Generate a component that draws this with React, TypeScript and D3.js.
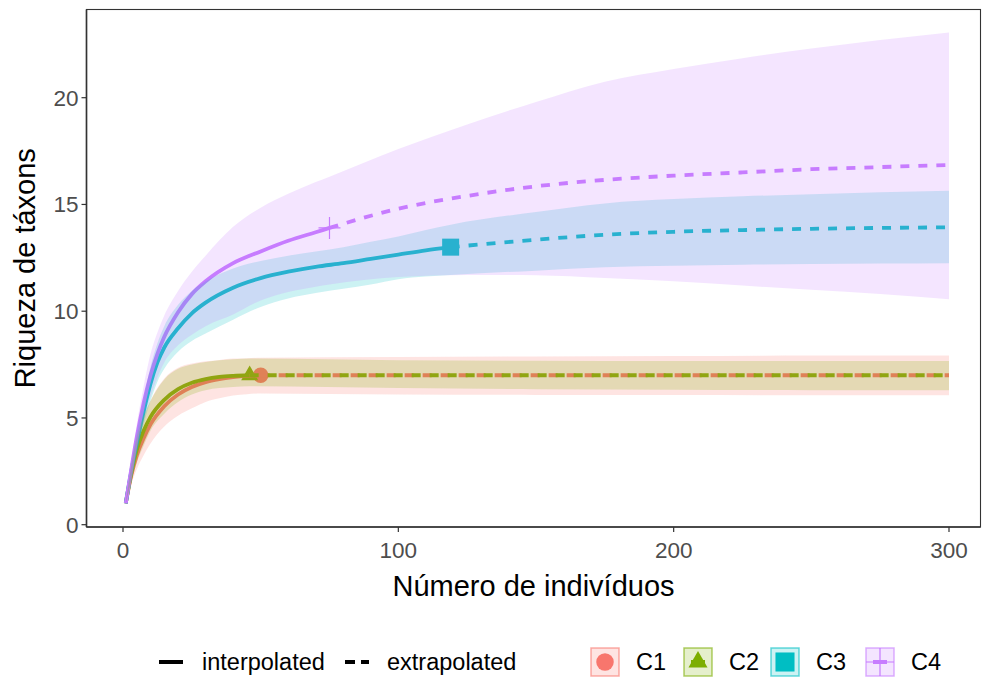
import React from "react";
import * as d3 from "d3";

// ---------- data ----------
const groups = ["C1", "C2", "C3", "C4"];
const colors = ["#F8766D", "#7CAE00", "#00BFC4", "#C77CFF"];
const obsN = [50, 46, 119, 75];

const c1N = [1, 3, 5, 7.5, 10, 15, 20, 25, 30, 35, 40, 45, 50, 100, 150, 200, 250, 300];
const c1S = [1, 2.3, 3.25, 4.05, 4.7, 5.55, 6.1, 6.45, 6.68, 6.82, 6.91, 6.97, 7.0, 7.0, 7.0, 7.0, 7.0, 7.0];
const c1Lo = [1, 1.9, 2.6, 3.25, 3.8, 4.6, 5.1, 5.45, 5.75, 5.92, 6.05, 6.11, 6.15, 6.1, 6.08, 6.07, 6.06, 6.06];
const c1Hi = [1, 2.7, 3.9, 5.0, 5.8, 6.85, 7.35, 7.55, 7.65, 7.72, 7.78, 7.8, 7.82, 7.86, 7.88, 7.9, 7.92, 7.93];

const c2N = [1, 3, 5, 7.5, 10, 15, 20, 25, 30, 35, 40, 46, 100, 150, 200, 250, 300];
const c2S = [1, 2.4, 3.5, 4.4, 5.05, 5.85, 6.35, 6.65, 6.82, 6.92, 6.97, 7.0, 7.0, 7.0, 7.0, 7.0, 7.0];
const c2Lo = [1, 2.0, 2.9, 3.7, 4.4, 5.2, 5.75, 6.1, 6.3, 6.4, 6.45, 6.48, 6.4, 6.35, 6.32, 6.3, 6.3];
const c2Hi = [1, 2.8, 4.1, 5.1, 5.8, 6.8, 7.3, 7.5, 7.62, 7.7, 7.75, 7.78, 7.7, 7.68, 7.67, 7.67, 7.67];

const c3N = [1, 3, 5, 7.5, 10, 12.5, 15, 20, 25, 30, 40, 50, 60, 70, 80, 90, 100, 110, 119, 150, 175, 200, 225, 250, 275, 300];
const c3S = [1, 2.5, 3.8, 5.3, 6.6, 7.6, 8.3, 9.2, 9.9, 10.4, 11.1, 11.55, 11.85, 12.08, 12.25, 12.45, 12.65, 12.85, 13.0, 13.35, 13.58, 13.72, 13.8, 13.86, 13.9, 13.93];
const c3Lo = [1, 2.2, 3.4, 4.7, 5.8, 6.7, 7.3, 8.1, 8.6, 8.95, 9.6, 10.2, 10.6, 10.85, 11.05, 11.25, 11.5, 11.62, 11.7, 11.9, 12.06, 12.13, 12.18, 12.21, 12.23, 12.25];
const c3Hi = [1, 2.8, 4.3, 5.9, 7.4, 8.5, 9.3, 10.3, 10.95, 11.4, 12.0, 12.35, 12.6, 12.8, 13.0, 13.25, 13.5, 13.8, 14.05, 14.65, 15.05, 15.25, 15.38, 15.48, 15.57, 15.64];

const c4N = [1, 3, 5, 7.5, 10, 12.5, 15, 20, 25, 30, 40, 50, 60, 70, 75, 100, 125, 150, 175, 200, 225, 250, 275, 300];
const c4S = [1, 2.6, 4.1, 5.7, 7.0, 8.0, 8.8, 9.95, 10.8, 11.4, 12.25, 12.8, 13.3, 13.7, 13.9, 14.8, 15.4, 15.85, 16.15, 16.35, 16.5, 16.65, 16.75, 16.85];
const c4Lo = [1, 2.3, 3.5, 4.9, 6.0, 6.9, 7.6, 8.4, 8.9, 9.3, 9.85, 10.5, 10.9, 11.15, 11.25, 11.6, 11.7, 11.68, 11.55, 11.4, 11.2, 11.0, 10.8, 10.56];
const c4Hi = [1, 2.9, 4.7, 6.5, 8.0, 9.0, 9.8, 10.95, 11.85, 12.6, 13.95, 14.85, 15.5, 16.05, 16.3, 17.6, 18.75, 19.8, 20.75, 21.35, 21.85, 22.3, 22.7, 23.05];

const xTicks = [0, 100, 200, 300];
const yTicks = [0, 5, 10, 15, 20];
const xTitle = "Número de indivíduos";
const yTitle = "Riqueza de táxons";
const ltyLabels = ["interpolated", "extrapolated"];

const seriesN = [c1N, c2N, c3N, c4N];
const seriesS = [c1S, c2S, c3S, c4S];
const seriesLo = [c1Lo, c2Lo, c3Lo, c4Lo];
const seriesHi = [c1Hi, c2Hi, c3Hi, c4Hi];

// ---------- layout ----------
const W = 982;
const H = 679;
const P = { left: 86.5, right: 980.5, top: 9.5, bottom: 527 };
const FONT = "'Liberation Sans', Arial, sans-serif";

const x = d3.scaleLinear().domain([0, 300]).range([123, 949]);
const y = d3.scaleLinear().domain([0, 20]).range([524.7, 97.7]);

type Pt = { n: number; s: number; lo: number; hi: number };

const line = d3
  .line<Pt>()
  .x((d) => x(d.n))
  .y((d) => y(d.s))
  .curve(d3.curveMonotoneX);
const area = d3
  .area<Pt>()
  .x((d) => x(d.n))
  .y0((d) => y(d.lo))
  .y1((d) => y(d.hi))
  .curve(d3.curveMonotoneX);

function shapePath(i: number, cx: number, cy: number, scale = 1) {
  const c = colors[i];
  if (i === 0) return <circle cx={cx} cy={cy} r={7.8 * scale} fill={c} />;
  if (i === 1) {
    const s = 17 * scale;
    const h = (s * Math.sqrt(3)) / 2;
    const p = `M${cx},${cy - (2 * h) / 3}L${cx + s / 2},${cy + h / 3}L${cx - s / 2},${cy + h / 3}Z`;
    return <path d={p} fill={c} />;
  }
  if (i === 2) {
    const s = 17 * scale;
    return <rect x={cx - s / 2} y={cy - s / 2} width={s} height={s} fill={c} />;
  }
  const a = 11 * scale;
  return (
    <path
      d={`M${cx - a},${cy}L${cx + a},${cy}M${cx},${cy - a}L${cx},${cy + a}`}
      stroke={c}
      strokeWidth={1.2}
      fill="none"
    />
  );
}

export default function App() {
  const data: Pt[][] = groups.map((_, i) =>
    seriesN[i].map((n, j) => ({ n, s: seriesS[i][j], lo: seriesLo[i][j], hi: seriesHi[i][j] }))
  );

  const legY = 662;
  const fillKeys = [591, 684, 771, 866];

  return (
    <svg
      width={W}
      height={H}
      style={{ position: "absolute", left: 0, top: 0, background: "#fff" }}
      fontFamily={FONT}
    >
      <defs>
        <clipPath id="panel">
          <rect x={P.left} y={P.top} width={P.right - P.left} height={P.bottom - P.top} />
        </clipPath>
      </defs>
      <rect x={0} y={0} width={W} height={H} fill="#fff" />
      <g clipPath="url(#panel)">
        {groups.map((g, i) => {
          const obs = data[i].find((d) => d.n === obsN[i])!;
          return <g key={"p" + g}>{shapePath(i, x(obs.n), y(obs.s))}</g>;
        })}
        {groups.map((g, i) => {
          const interp = data[i].filter((d) => d.n <= obsN[i]);
          const extrap = data[i].filter((d) => d.n >= obsN[i]);
          return (
            <g key={"l" + g} fill="none" stroke={colors[i]} strokeWidth={3.8}>
              <path d={line(interp) || ""} strokeLinejoin="round" />
              <path d={line(extrap) || ""} strokeDasharray="9,9" />
            </g>
          );
        })}
        {groups.map((g, i) => (
          <path key={"r" + g} d={area(data[i]) || ""} fill={colors[i]} fillOpacity={0.2} stroke="none" />
        ))}
      </g>

      <rect
        x={P.left}
        y={P.top}
        width={P.right - P.left}
        height={P.bottom - P.top}
        fill="none"
        stroke="#333333"
        strokeWidth={1.1}
      />
      <line x1={P.left} x2={P.left} y1={P.top} y2={P.bottom} stroke="#333" strokeWidth={1.6} />
      <line x1={P.left} x2={P.right} y1={P.bottom} y2={P.bottom} stroke="#333" strokeWidth={1.6} />

      {xTicks.map((t) => (
        <g key={"xt" + t}>
          <line x1={x(t)} x2={x(t)} y1={P.bottom} y2={P.bottom + 5} stroke="#333" strokeWidth={1.2} />
          <text x={x(t)} y={P.bottom + 31} textAnchor="middle" fontSize={22.5} fill="#4D4D4D">
            {t}
          </text>
        </g>
      ))}
      {yTicks.map((t) => (
        <g key={"yt" + t}>
          <line x1={P.left - 5} x2={P.left} y1={y(t)} y2={y(t)} stroke="#333" strokeWidth={1.2} />
          <text x={P.left - 8} y={y(t) + 8} textAnchor="end" fontSize={22.5} fill="#4D4D4D">
            {t}
          </text>
        </g>
      ))}
      <text x={(P.left + P.right) / 2} y={596} textAnchor="middle" fontSize={29} fill="#000">
        {xTitle}
      </text>
      <text
        transform={`translate(35, ${(P.top + P.bottom) / 2}) rotate(-90)`}
        textAnchor="middle"
        fontSize={29}
        fill="#000"
      >
        {yTitle}
      </text>

      <line x1={159} x2={183} y1={legY} y2={legY} stroke="#000" strokeWidth={4} />
      <text x={202} y={legY + 8} fontSize={23.5} fill="#000">
        {ltyLabels[0]}
      </text>
      <line x1={345} x2={369} y1={legY} y2={legY} stroke="#000" strokeWidth={4} strokeDasharray="10,6" />
      <text x={387} y={legY + 8} fontSize={23.5} fill="#000">
        {ltyLabels[1]}
      </text>

      {groups.map((g, i) => {
        const kx = fillKeys[i];
        const ks = 28;
        const cx = kx + ks / 2;
        return (
          <g key={"lg" + g}>
            {shapePath(i, cx, legY, i === 3 ? 1.27 : 1.12)}
            <line x1={kx + 7} x2={kx + ks - 7} y1={legY} y2={legY} stroke={colors[i]} strokeWidth={4} />
            <rect
              x={kx}
              y={legY - ks / 2}
              width={ks}
              height={ks}
              fill={colors[i]}
              fillOpacity={0.2}
              stroke={colors[i]}
              strokeOpacity={0.6}
              strokeWidth={1.5}
            />
            <text x={kx + ks + 17} y={legY + 8} fontSize={23.5} fill="#000">
              {g}
            </text>
          </g>
        );
      })}
    </svg>
  );
}
